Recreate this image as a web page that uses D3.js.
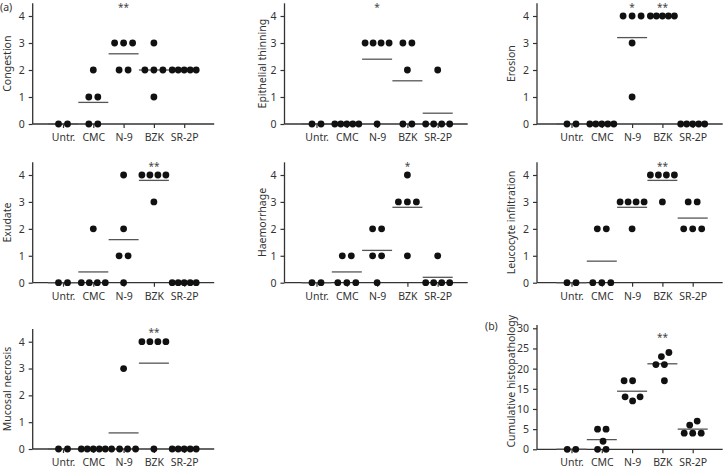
<!DOCTYPE html>
<html><head><meta charset="utf-8">
<script src="https://cdn.jsdelivr.net/npm/d3@7"></script>
<style>body{margin:0;background:#fff} svg{display:block} text{font-family:"Noto Sans",sans-serif}</style>
</head><body><svg id="c" width="723" height="470"></svg>
<script>
// ---- data ----
const groups = ["Untr.","CMC","N-9","BZK","SR-2P"];
const congestion = [[0,0],[2,1,1,0,0],[3,3,3,2,2],[3,2,2,2,1],[2,2,2,2,2]];
const epithelialThinning = [[0,0],[0,0,0,0,0],[3,3,3,3,0],[3,3,2,0,0],[2,0,0,0,0]];
const erosion = [[0,0],[0,0,0,0,0],[4,4,4,3,1],[4,4,4,4,4],[0,0,0,0,0]];
const exudate = [[0,0],[2,0,0,0,0],[4,2,1,1,0],[4,4,4,4,3],[0,0,0,0,0]];
const haemorrhage = [[0,0],[1,1,0,0,0],[2,2,1,1,0],[4,3,3,3,1],[1,0,0,0,0]];
const leucocyteInfiltration = [[0,0],[2,2,0,0,0],[3,3,3,3,2],[4,4,4,4,3],[3,3,2,2,2]];
const mucosalNecrosis = [[0,0],[0,0,0,0,0],[3,0,0,0,0],[4,4,4,4,0],[0,0,0,0,0]];
const cumulative = [[0,0],[2,5,5,0,0],[17,17,13,12,13],[21,21,24,23,17],[4,4,4,7,6]];

const congestionSig = ["","","**","",""];
const epithelialSig = ["","","*","",""];
const erosionSig = ["","","*","**",""];
const exudateSig = ["","","","**",""];
const haemorrhageSig = ["","","","*",""];
const leucocyteSig = ["","","","**",""];
const necrosisSig = ["","","","**",""];
const cumulativeSig = ["","","","**",""];

const scoreTicks = [0,1,2,3,4];
const cumulativeTicks = [0,5,10,15,20,25,30];

// ---- layout ----
const cols = [{left:32.7, cat0:63, labelX:7.2},{left:284.5, cat0:316.5, labelX:262},{left:537, cat0:571.5, labelX:510.5}];
const rows = [{y0:124, yTop:16},{y0:282.7, yTop:175},{y0:449, yTop:341.7}];
const STEP = 30.3;

const panels = [
  {label:"Congestion", data:congestion, sig:congestionSig, col:0, row:0},
  {label:"Epithelial thinning", data:epithelialThinning, sig:epithelialSig, col:1, row:0},
  {label:"Erosion", data:erosion, sig:erosionSig, col:2, row:0},
  {label:"Exudate", data:exudate, sig:exudateSig, col:0, row:1},
  {label:"Haemorrhage", data:haemorrhage, sig:haemorrhageSig, col:1, row:1},
  {label:"Leucocyte infiltration", data:leucocyteInfiltration, sig:leucocyteSig, col:2, row:1},
  {label:"Mucosal necrosis", data:mucosalNecrosis, sig:necrosisSig, col:0, row:2},
  {label:"Cumulative histopathology", data:cumulative, sig:cumulativeSig, col:2, row:2, cumulative:true}
];

const svg = d3.select("#c");
const INK = "#333";
const R = 3.4;

function centeredOffsets(vals){
  const counts = d3.rollup(vals, v=>v.length, d=>d);
  const seen = new Map();
  return vals.map(v=>{
    const n = counts.get(v), i = seen.get(v)||0; seen.set(v,i+1);
    const sp = n>1 ? Math.min(9, 24/(n-1)) : 0;
    return (i-(n-1)/2)*sp;
  });
}
function swarmOffsets(vals, y){
  const order = d3.range(vals.length).sort((a,b)=>vals[a]-vals[b]);
  const placed = [], off = new Array(vals.length);
  const cands = [0]; for(let k=0.5;k<=20;k+=0.5){cands.push(-k,k);}
  order.forEach(i=>{
    const py = y(vals[i]);
    for(const c of cands){
      if(placed.every(p=>Math.hypot(p.x-c,p.y-py)>=8.5)){off[i]=c; placed.push({x:c,y:py}); break;}
    }
  });
  const m = (d3.min(off)+d3.max(off))/2;
  return off.map(o=>o-m);
}

panels.forEach(p=>{
  const c = cols[p.col], r = rows[p.row];
  const g = svg.append("g");
  const x = d3.scalePoint().domain(groups).range([c.cat0, c.cat0+4*STEP]);
  let y, ticks, axisTopVal, starVal, labelDy = 0;
  if(p.cumulative){
    y = d3.scaleLinear().domain([0,30]).range([449.3,328.3]);
    ticks = cumulativeTicks; axisTopVal = 30.8; starVal = 28.4; labelDy = -6;
  } else {
    y = d3.scaleLinear().domain([0,4]).range([r.y0, r.yTop]);
    ticks = scoreTicks; axisTopVal = 4.47; starVal = 4.42;
  }
  const axisEnd = c.cat0 + 4*STEP + 30;
  // y axis
  const ya = g.append("g").attr("transform",`translate(${c.left},0)`)
    .call(d3.axisLeft(y).tickValues(ticks).tickFormat(d3.format("d")).tickSize(4).tickPadding(4));
  ya.select(".domain").remove();
  // x axis
  const xa = g.append("g").attr("transform",`translate(0,${y(0)})`)
    .call(d3.axisBottom(x).tickSize(4).tickPadding(5.5));
  xa.select(".domain").remove();
  [ya,xa].forEach(a=>{
    a.selectAll("line").attr("stroke",INK).attr("stroke-width",1.2);
    a.selectAll("text").attr("fill",INK).style("font-size","10.5px").style("font-family",'"Noto Sans",sans-serif');
  });
  g.append("line").attr("x1",c.left).attr("x2",c.left).attr("y1",y(0)).attr("y2",y(axisTopVal))
    .attr("stroke",INK).attr("stroke-width",1.3);
  g.append("line").attr("x1",c.left).attr("x2",axisEnd).attr("y1",y(0)).attr("y2",y(0))
    .attr("stroke",INK).attr("stroke-width",1.3);
  // y label
  g.append("text").attr("transform",`translate(${c.labelX},${(y(0)+y(axisTopVal))/2+labelDy}) rotate(-90)`)
    .attr("text-anchor","middle").attr("dominant-baseline","central")
    .attr("fill",INK).style("font-size","10.5px").text(p.label);
  // means
  p.data.forEach((vals,i)=>{
    const cx = x(groups[i]);
    g.append("line").attr("x1",cx-15).attr("x2",cx+15)
      .attr("y1",y(d3.mean(vals))).attr("y2",y(d3.mean(vals)))
      .attr("stroke","#555").attr("stroke-width",1.3);
  });
  // dots
  p.data.forEach((vals,i)=>{
    const cx = x(groups[i]);
    const offs = p.cumulative ? swarmOffsets(vals,y) : centeredOffsets(vals);
    g.selectAll(null).data(vals).enter().append("circle")
      .attr("cx",(d,j)=>cx+offs[j]).attr("cy",d=>y(d)).attr("r",R).attr("fill","#111");
  });
  // significance
  p.sig.forEach((s,i)=>{
    if(!s) return;
    g.append("text").attr("x",x(groups[i])).attr("y",y(starVal)+6)
      .attr("text-anchor","middle").attr("fill","#444").style("font-size","10px").text(s);
  });
});

svg.append("text").attr("x",0).attr("y",10.5).attr("fill",INK).style("font-size","10.5px").text("(a)");
svg.append("text").attr("x",485).attr("y",330).attr("fill",INK).style("font-size","10.5px").text("(b)");
</script></body></html>
